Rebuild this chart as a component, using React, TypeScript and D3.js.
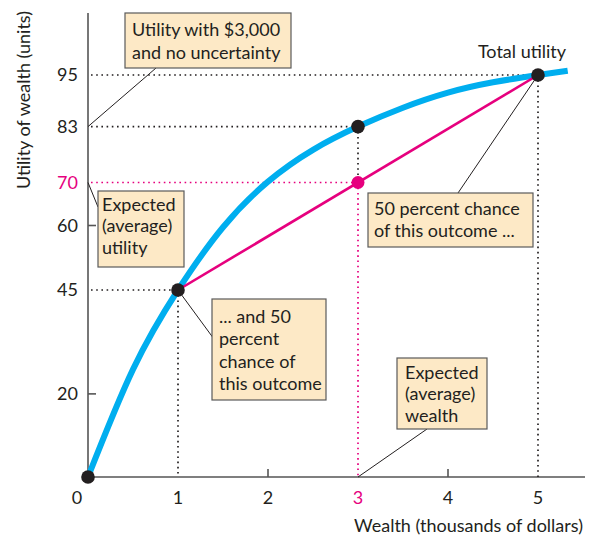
import React from "react";
import * as d3 from "d3";

// ---- data ----
const curveX = [0, 0.5, 1, 1.5, 2, 2.5, 3, 3.5, 4, 4.5, 5, 5.33];
const curveU = [0, 25.9, 45, 59.6, 70.2, 77.6, 83, 87.4, 90.9, 93.3, 95, 96.0];
const gambleX = [1, 5];
const gambleU = [45, 95];
const keyPointsX = [0, 1, 3, 5];
const keyPointsU = [0, 45, 83, 95];
const expectedX = 3;
const expectedU = 70;
const xTicks = [0, 1, 2, 3, 4, 5];
const yTicks = [20, 45, 60, 70, 83, 95];
const xTickMarks = [2, 4];
const yTickMarks = [20, 60];
const xTitle = "Wealth (thousands of dollars)";
const yTitle = "Utility of wealth (units)";
const noteCertain = ["Utility with $3,000", "and no uncertainty"];
const noteExpUtil = ["Expected", "(average)", "utility"];
const noteLow = ["... and 50", "percent", "chance of", "this outcome"];
const noteHigh = ["50 percent chance", "of this outcome ..."];
const noteExpWealth = ["Expected", "(average)", "wealth"];
const totalLabel = "Total utility";

const W = 590;
const H = 536;
const BLUE = "#00aeef";
const PINK = "#e6007e";
const INK = "#231f20";
const AXIS = "#555";
const BOX_FILL = "#fde9c6";
const BOX_STROKE = "#5a5a5a";
const FONT = "Lato, 'DejaVu Sans', sans-serif";
const FS = 18;

const x = d3.scaleLinear().domain([0, 5]).range([88, 538]);
const y = d3.scaleLinear().domain([0, 45, 95]).range([477, 290, 75]);

const dotStyle = { strokeDasharray: "1.6 3.6", strokeWidth: 1.7 };

function Note({ x0, y0, w, h, lines, tx, ty, lh }: any) {
  return (
    <g>
      <rect x={x0} y={y0} width={w} height={h} fill={BOX_FILL} stroke={BOX_STROKE} strokeWidth={1.2} />
      <text fontFamily={FONT} fontSize={FS} fill={INK}>
        {lines.map((l: string, i: number) => (
          <tspan key={i} x={tx} y={ty + i * lh}>
            {l}
          </tspan>
        ))}
      </text>
    </g>
  );
}

export default function App() {
  const line = d3
    .line<number>()
    .x((_, i) => x(curveX[i]))
    .y((d) => y(d))
    .curve(d3.curveNatural);
  const curvePath = line(curveU) || "";

  const x0 = x(0);
  const y0 = y(0);
  const xEnd = 585;
  const yTop = 13;

  return (
    <svg width={W} height={H} style={{ position: "absolute", left: 0, top: 0 }}>
      <rect width={W} height={H} fill="#fff" />
      {/* axes */}
      <line x1={x0} y1={y0} x2={xEnd} y2={y0} stroke={AXIS} strokeWidth={1.6} />
      <line x1={x0} y1={y0} x2={x0} y2={yTop} stroke={AXIS} strokeWidth={1.6} />
      {xTickMarks.map((t) => (
        <line key={"xt" + t} x1={x(t)} x2={x(t)} y1={y0} y2={y0 - 8} stroke={AXIS} strokeWidth={1.6} />
      ))}
      {yTickMarks.map((t) => (
        <line key={"yt" + t} x1={x0} x2={x0 + 8} y1={y(t)} y2={y(t)} stroke={AXIS} strokeWidth={1.6} />
      ))}
      {/* tick labels */}
      {xTicks.map((t) => (
        <text
          key={"xl" + t}
          x={t === 0 ? x(t) - 11 : x(t)}
          y={504}
          textAnchor="middle"
          fontFamily={FONT}
          fontSize={FS}
          fill={t === expectedX ? PINK : INK}
        >
          {t}
        </text>
      ))}
      {yTicks.map((t) => (
        <text
          key={"yl" + t}
          x={78}
          y={y(t)}
          dy="0.36em"
          textAnchor="end"
          fontFamily={FONT}
          fontSize={FS}
          fill={t === expectedU ? PINK : INK}
        >
          {t}
        </text>
      ))}
      {/* axis titles */}
      <text x={583} y={532} textAnchor="end" fontFamily={FONT} fontSize={FS} fill={INK}>
        {xTitle}
      </text>
      <text
        transform="translate(30,100) rotate(-90)"
        textAnchor="middle"
        fontFamily={FONT}
        fontSize={FS}
        fill={INK}
      >
        {yTitle}
      </text>

      {/* dotted guides */}
      {keyPointsX.slice(1).map((kx, i) => (
        <g key={"g" + kx}>
          <line x1={x0 + 3} x2={x(kx)} y1={y(keyPointsU[i + 1])} y2={y(keyPointsU[i + 1])} stroke={INK} {...dotStyle} />
          {kx !== expectedX && (
            <line x1={x(kx)} x2={x(kx)} y1={y(keyPointsU[i + 1])} y2={y0} stroke={INK} {...dotStyle} />
          )}
        </g>
      ))}
      <line x1={x(expectedX)} x2={x(expectedX)} y1={y(83)} y2={y(expectedU)} stroke={INK} {...dotStyle} />
      <line x1={x0 + 3} x2={x(expectedX)} y1={y(expectedU)} y2={y(expectedU)} stroke={PINK} {...dotStyle} />
      <line x1={x(expectedX)} x2={x(expectedX)} y1={y(expectedU)} y2={y0} stroke={PINK} {...dotStyle} />

      {/* curve + chord */}
      <path d={curvePath} fill="none" stroke={BLUE} strokeWidth={6} strokeLinecap="butt" />
      <line
        x1={x(gambleX[0])}
        y1={y(gambleU[0])}
        x2={x(gambleX[1])}
        y2={y(gambleU[1])}
        stroke={PINK}
        strokeWidth={2.6}
      />

      {/* points */}
      {keyPointsX.map((kx, i) => (
        <circle key={"p" + kx} cx={x(kx)} cy={y(keyPointsU[i])} r={6.8} fill={INK} />
      ))}
      <circle cx={x(expectedX)} cy={y(expectedU)} r={6.5} fill={PINK} />

      {/* leader lines */}
      <g stroke={INK} strokeWidth={1}>
        <line x1={x0} y1={y(83)} x2={156} y2={68} />
        <line x1={x0} y1={y(expectedU)} x2={98} y2={207} />
        <line x1={x(1)} y1={y(45)} x2={212.5} y2={337} />
        <line x1={x(5)} y1={y(95)} x2={458} y2={193} />
        <line x1={x(expectedX)} y1={y0} x2={427} y2={429} />
      </g>

      {/* notes */}
      <Note x0={125} y0={13} w={166} h={55} lines={noteCertain} tx={132} ty={36} lh={23} />
      <Note x0={98} y0={191} w={86} h={76} lines={noteExpUtil} tx={102} ty={211} lh={21.3} />
      <Note x0={212} y0={299} w={114} h={101} lines={noteLow} tx={219} ty={323} lh={22.3} />
      <Note x0={368} y0={193} w={165} h={54} lines={noteHigh} tx={374} ty={215} lh={21.5} />
      <Note x0={397} y0={358} w={90} h={71} lines={noteExpWealth} tx={405} ty={378.5} lh={21.7} />

      <text x={522} y={58} textAnchor="middle" fontFamily={FONT} fontSize={FS} fill={INK}>
        {totalLabel}
      </text>
    </svg>
  );
}
